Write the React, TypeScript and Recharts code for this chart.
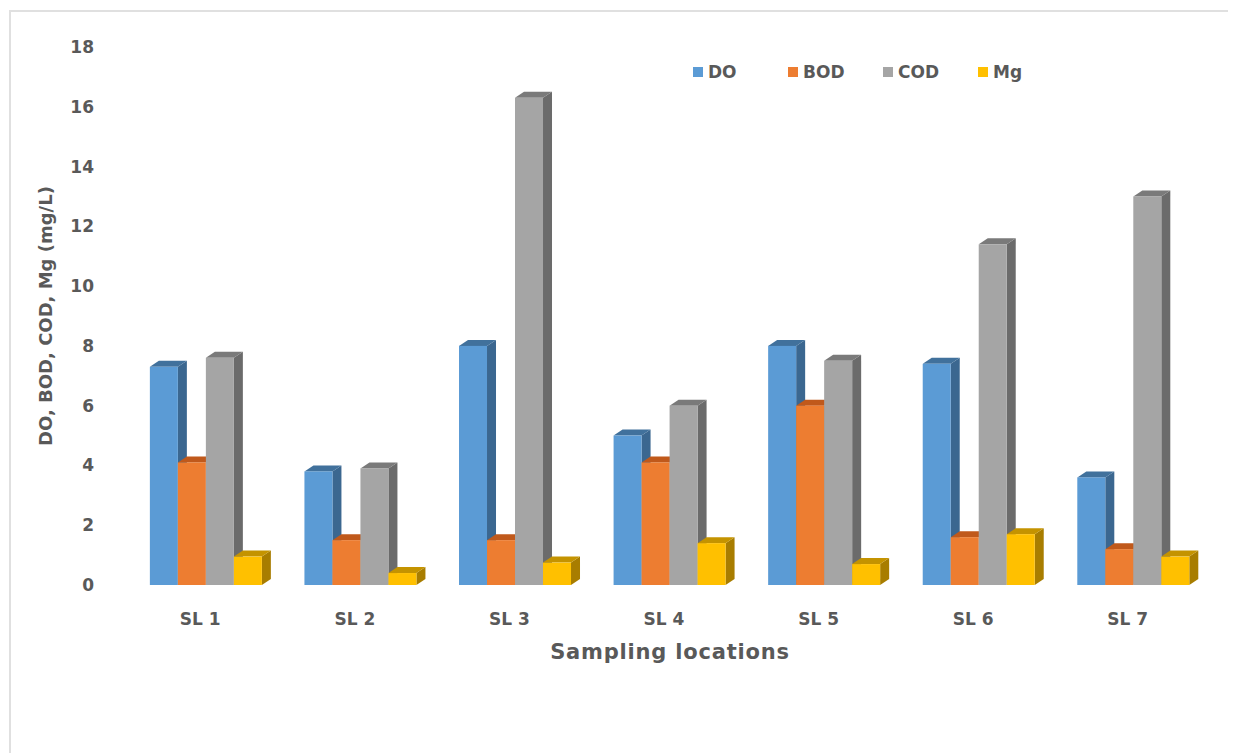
import React from "react";
import { BarChart, Bar, XAxis, YAxis, Label } from "recharts";

const locations = ["SL 1", "SL 2", "SL 3", "SL 4", "SL 5", "SL 6", "SL 7"];
const doValues = [7.3, 3.8, 8.0, 5.0, 8.0, 7.4, 3.6];
const bodValues = [4.1, 1.5, 1.5, 4.1, 6.0, 1.6, 1.2];
const codValues = [7.6, 3.9, 16.3, 6.0, 7.5, 11.4, 13.0];
const mgValues = [0.95, 0.4, 0.75, 1.4, 0.7, 1.7, 0.95];
const yTicks = [0, 2, 4, 6, 8, 10, 12, 14, 16, 18];

const data = locations.map((name, i) => ({
  name,
  DO: doValues[i],
  BOD: bodValues[i],
  COD: codValues[i],
  Mg: mgValues[i],
}));

interface ISeries {
  key: string;
  front: string;
  side: string;
  top: string;
}

const series: ISeries[] = [
  { key: "DO", front: "#5b9bd5", side: "#3b6790", top: "#41719c" },
  { key: "BOD", front: "#ed7d31", side: "#b0571c", top: "#c0591b" },
  { key: "COD", front: "#a5a5a5", side: "#6b6b6b", top: "#7a7a7a" },
  { key: "Mg", front: "#ffc000", side: "#a87d00", top: "#c49300" },
];

const FONT = "'DejaVu Sans', sans-serif";
const TEXT = "#595959";
const DX = 9;
const DY = 6;

// front face plus a right side and a top to fake the 3d column look
const columnShape = (s: ISeries) => (props: any) => {
  const { x, y, width, height } = props;
  if (!height || height <= 0) return <g />;
  const r = x + width;
  const b = y + height;
  return (
    <g>
      <polygon
        points={`${r},${y} ${r + DX},${y - DY} ${r + DX},${b - DY} ${r},${b}`}
        fill={s.side}
      />
      <polygon
        points={`${x},${y} ${x + DX},${y - DY} ${r + DX},${y - DY} ${r},${y}`}
        fill={s.top}
      />
      <rect x={x} y={y} width={width} height={height} fill={s.front} />
    </g>
  );
};

const LocationTick = (props: any) => {
  const { x, y, payload } = props;
  return (
    <text
      x={x - 6}
      y={y + 38}
      textAnchor="middle"
      fontFamily={FONT}
      fontWeight="bold"
      fontSize={17}
      fill={TEXT}
    >
      {payload.value}
    </text>
  );
};

// legend sits over the plot, kept out of the chart's layout
const TopLegend = () => (
  <div
    style={{
      position: "absolute",
      left: 685,
      top: 54,
      display: "flex",
      fontFamily: FONT,
      fontWeight: "bold",
      fontSize: 17,
      color: TEXT,
      zIndex: 1,
    }}
  >
    {series.map((s) => (
      <div key={s.key} style={{ width: 95, display: "flex", alignItems: "center" }}>
        <span style={{ width: 10, height: 10, background: s.front, marginRight: 5 }} />
        <span>{s.key}</span>
      </div>
    ))}
  </div>
);

const App = () => {
  return (
    <div style={{ position: "relative", width: 1228, height: 745 }}>
      <div
        style={{
          position: "absolute",
          left: 1,
          top: 2,
          right: -8,
          bottom: -8,
          borderLeft: "2px solid #e0e0e0",
          borderTop: "2px solid #e0e0e0",
        }}
      />
      <BarChart
        width={1228}
        height={745}
        data={data}
        barCategoryGap="13.5%"
        barGap={0}
        margin={{ top: 39, right: 25, left: 0, bottom: 80 }}
        style={{ position: "absolute", left: 0, top: 0 }}
      >
        <XAxis
          dataKey="name"
          axisLine={false}
          tickLine={false}
          tickSize={0}
          height={88}
          tick={<LocationTick />}
        >
          <Label
            value="Sampling locations"
            position="insideBottom"
            offset={14}
            style={{
              fontFamily: FONT,
              fontWeight: "bold",
              fontSize: 21,
              letterSpacing: 0.8,
              fill: TEXT,
            }}
          />
        </XAxis>
        <YAxis
          domain={[0, 18]}
          ticks={yTicks}
          width={121}
          axisLine={false}
          tickLine={false}
          tickSize={0}
          tickMargin={35}
          tick={{ fontFamily: FONT, fontWeight: "bold", fontSize: 17, fill: TEXT }}
        >
          <Label
            value="DO, BOD, COD, Mg (mg/L)"
            angle={-90}
            position="insideLeft"
            offset={38}
            style={{ fontFamily: FONT, fontWeight: "bold", fontSize: 18, fill: TEXT, textAnchor: "middle" }}
          />
        </YAxis>
        {series.map((s) => (
          <Bar
            key={s.key}
            dataKey={s.key}
            fill={s.front}
            shape={columnShape(s)}
            isAnimationActive={false}
          />
        ))}
      </BarChart>
      <TopLegend />
    </div>
  );
};

export default App;
